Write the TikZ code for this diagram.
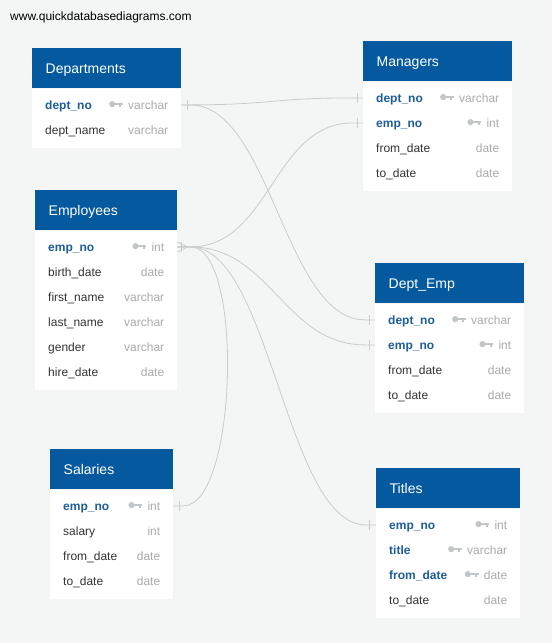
\documentclass[tikz,border=0pt]{standalone}
\usepackage{fontspec}
\setmainfont{Liberation Sans}
\usetikzlibrary{calc}
\definecolor{bg}{HTML}{F4F5F5}
\definecolor{hdrblue}{HTML}{055A9F}
\definecolor{keyblue}{HTML}{1D5D9B}
\definecolor{fieldc}{HTML}{333333}
\definecolor{typec}{HTML}{ABABAB}
\definecolor{keyc}{HTML}{C3C6C9}
\definecolor{linec}{HTML}{CBCBCB}
\tikzset{
  hdr/.style={fill=hdrblue, draw=none, minimum height=40pt, inner sep=0pt, anchor=north west},
  tbody/.style={fill=white, draw=none, inner sep=0pt, anchor=north west},
  hdrtxt/.style={text=white, font=\fontsize{14}{16}\selectfont, inner sep=0pt, anchor=base west},
  rowbox/.style={draw=none, minimum height=25pt, inner sep=0pt, anchor=west},
  fld/.style={text=fieldc, font=\fontsize{12}{14}\selectfont, inner sep=0pt, anchor=base west},
  pkfld/.style={text=keyblue, font=\fontsize{12}{14}\selectfont\bfseries, inner sep=0pt, anchor=base west},
  typ/.style={text=typec, font=\fontsize{12}{14}\selectfont, inner sep=0pt, anchor=base east},
  conn/.style={draw=linec, line width=0.8pt},
  keyicon/.pic={
    \fill[keyc] (-10.8,-0.8) circle (3.1pt);
    \fill[keyc] (-8,-2.1) rectangle (0,0.3);
    \fill[keyc] (-3.8,0.3) rectangle (-1.6,2.2);
  }
}
\newcommand{\erTable}[6]{%
  \def\erW{#4}%
  \pgfmathsetmacro\erH{34+25*(#6-1)}%
  \node[hdr, minimum width=#4pt] (#1) at (#2,#3) {};
  \node[hdrtxt] (#1-title) at ($(#1.north west)+(13.5,25.5)$) {#5};
  \node[tbody, minimum width=#4pt, minimum height=\erH pt] (#1-body) at (#1.south west) {};
}
\newcommand{\erRow}[5]{%
  \pgfmathsetmacro\erOff{16.5+25*(#3-1)}%
  \node[rowbox, minimum width=\erW pt] (#2) at ($(#1.south west)+(0,\erOff)$) {};
  \node[fld] (#2-f) at ($(#2.west)+(13,4.3)$) {#4};
  \node[typ] (#2-t) at ($(#2.east)+(-13,4.3)$) {#5};
}
\newcommand{\erKeyRow}[5]{%
  \pgfmathsetmacro\erOff{16.5+25*(#3-1)}%
  \node[rowbox, minimum width=\erW pt] (#2) at ($(#1.south west)+(0,\erOff)$) {};
  \node[pkfld] (#2-f) at ($(#2.west)+(13,4.3)$) {#4};
  \node[typ] (#2-t) at ($(#2.east)+(-13,4.3)$) {#5};
  \pic at ($(#2-t.west |- #2.center)+(-5,0)$) {keyicon};
}
\newcommand{\oneTick}[2]{\draw[conn] ($(#1)+(#2,-5)$) -- ++(0,10);}
\begin{document}
\begin{tikzpicture}[x=1pt,y=-1pt]
\fill[bg] (0,0) rectangle (552,643);
\useasboundingbox (0,0) rectangle (552,643);
\node[anchor=base west, font=\fontsize{12}{14}\selectfont, text=black, inner sep=0pt] (site) at (10,20) {www.quickdatabasediagrams.com};

% Departments
\erTable{dep}{32}{48}{149}{Departments}{2}
\erKeyRow{dep}{dep-no}{1}{dept\_no}{varchar}
\erRow{dep}{dep-name}{2}{dept\_name}{varchar}

% Managers
\erTable{man}{363}{41}{149}{Managers}{4}
\erKeyRow{man}{man-dno}{1}{dept\_no}{varchar}
\erKeyRow{man}{man-eno}{2}{emp\_no}{int}
\erRow{man}{man-from}{3}{from\_date}{date}
\erRow{man}{man-to}{4}{to\_date}{date}

% Employees
\erTable{emp}{35}{190}{142}{Employees}{6}
\erKeyRow{emp}{emp-no}{1}{emp\_no}{int}
\erRow{emp}{emp-birth}{2}{birth\_date}{date}
\erRow{emp}{emp-first}{3}{first\_name}{varchar}
\erRow{emp}{emp-last}{4}{last\_name}{varchar}
\erRow{emp}{emp-gender}{5}{gender}{varchar}
\erRow{emp}{emp-hire}{6}{hire\_date}{date}

% Dept_Emp
\erTable{de}{375}{263}{149}{Dept\_Emp}{4}
\erKeyRow{de}{de-dno}{1}{dept\_no}{varchar}
\erKeyRow{de}{de-eno}{2}{emp\_no}{int}
\erRow{de}{de-from}{3}{from\_date}{date}
\erRow{de}{de-to}{4}{to\_date}{date}

% Salaries
\erTable{sal}{50}{449}{123}{Salaries}{4}
\erKeyRow{sal}{sal-eno}{1}{emp\_no}{int}
\erRow{sal}{sal-sal}{2}{salary}{int}
\erRow{sal}{sal-from}{3}{from\_date}{date}
\erRow{sal}{sal-to}{4}{to\_date}{date}

% Titles
\erTable{ti}{376}{468}{144}{Titles}{4}
\erKeyRow{ti}{ti-eno}{1}{emp\_no}{int}
\erKeyRow{ti}{ti-title}{2}{title}{varchar}
\erKeyRow{ti}{ti-from}{3}{from\_date}{date}
\erRow{ti}{ti-to}{4}{to\_date}{date}

% Connectors
\draw[conn] (dep-no.east) -- ++(9,0) .. controls +(80,0) and +(-80,0) .. ($(man-dno.west)+(-10,0)$) -- (man-dno.west);
\draw[conn] (dep-no.east) -- ++(9,0) .. controls +(80,0) and +(-80,0) .. ($(de-dno.west)+(-10,0)$) -- (de-dno.west);
\draw[conn] (emp-no.east) -- ++(13,0) .. controls +(80,0) and +(-80,0) .. ($(man-eno.west)+(-10,0)$) -- (man-eno.west);
\draw[conn] (emp-no.east) -- ++(13,0) .. controls +(80,0) and +(-80,0) .. ($(de-eno.west)+(-10,0)$) -- (de-eno.west);
\draw[conn] (emp-no.east) -- ++(13,0) .. controls +(80,0) and +(-80,0) .. ($(ti-eno.west)+(-10,0)$) -- (ti-eno.west);
\draw[conn] (emp-no.east) -- ++(13,0) .. controls +(54,0) and +(54,0) .. ($(sal-eno.east)+(10,0)$) -- (sal-eno.east);

% one-side ticks
\oneTick{dep-no.east}{6}
\oneTick{man-dno.west}{-6}
\oneTick{man-eno.west}{-6}
\oneTick{de-dno.west}{-6}
\oneTick{de-eno.west}{-6}
\oneTick{ti-eno.west}{-7}
\oneTick{sal-eno.east}{6}
% many-side crow's foot
\draw[conn] ($(emp-no.east)+(0,-5)$) -- ($(emp-no.east)+(10,0)$) -- ($(emp-no.east)+(0,5)$);
\oneTick{emp-no.east}{4}
\end{tikzpicture}
\end{document}
